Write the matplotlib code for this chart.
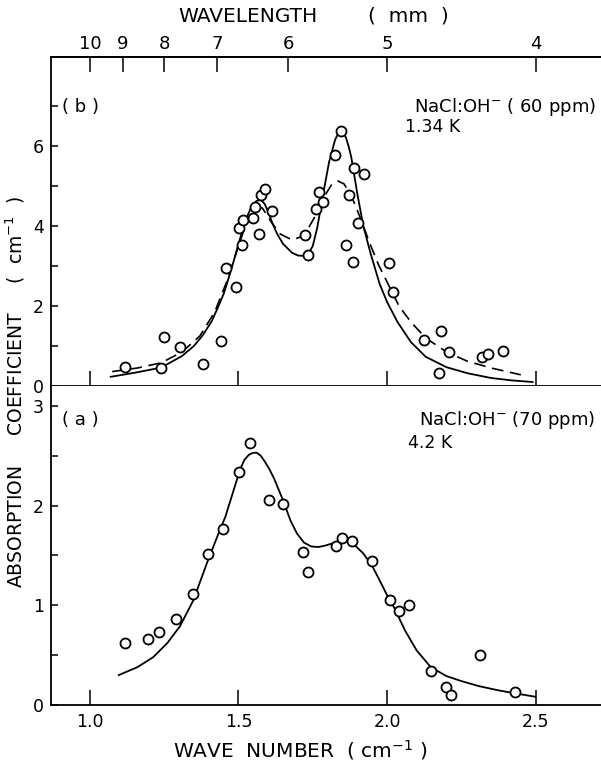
import numpy as np
import matplotlib
matplotlib.use("Agg")
import matplotlib.pyplot as plt

plt.rcParams['font.family'] = ['DejaVu Sans']
plt.rcParams['mathtext.fontset'] = 'dejavusans'

# ---- panel (b): NaCl:OH- 60 ppm, 1.34 K ----
b_wn = [1.118, 1.240, 1.249, 1.303, 1.380, 1.441, 1.459, 1.490, 1.502, 1.511,
        1.514, 1.549, 1.557, 1.570, 1.577, 1.589, 1.612, 1.723, 1.735, 1.760,
        1.770, 1.784, 1.824, 1.844, 1.862, 1.871, 1.884, 1.889, 1.901, 1.922,
        2.006, 2.021, 2.123, 2.174, 2.183, 2.209, 2.318, 2.339, 2.391]
b_abs = [0.47, 0.46, 1.22, 0.98, 0.55, 1.12, 2.94, 2.48, 3.94, 3.52,
         4.15, 4.19, 4.47, 3.79, 4.76, 4.92, 4.38, 3.78, 3.28, 4.42,
         4.84, 4.59, 5.78, 6.36, 3.52, 4.78, 3.09, 5.44, 4.07, 5.30,
         3.07, 2.36, 1.15, 0.33, 1.37, 0.86, 0.73, 0.80, 0.88]

b_solid_x = [1.07, 1.15, 1.24, 1.31, 1.35, 1.38, 1.41, 1.43, 1.45, 1.467,
             1.485, 1.50, 1.515, 1.53, 1.545, 1.56, 1.575, 1.588, 1.60, 1.615,
             1.63, 1.65, 1.68, 1.70, 1.72, 1.735, 1.75, 1.765, 1.785, 1.805,
             1.825, 1.837, 1.845, 1.853, 1.862, 1.872, 1.88, 1.89, 1.90, 1.92,
             1.945, 1.975, 2.0, 2.035, 2.08, 2.13, 2.20, 2.27, 2.35, 2.42, 2.49]
b_solid_y = [0.23, 0.33, 0.46, 0.75, 1.0, 1.27, 1.62, 1.95, 2.3, 2.7,
             3.15, 3.55, 3.93, 4.25, 4.5, 4.62, 4.65, 4.55, 4.35, 4.05,
             3.8, 3.55, 3.33, 3.26, 3.25, 3.3, 3.5, 3.95, 4.8, 5.6,
             6.15, 6.33, 6.38, 6.34, 6.2, 5.95, 5.7, 5.25, 4.8, 4.0,
             3.3, 2.55, 2.1, 1.6, 1.1, 0.73, 0.47, 0.32, 0.2, 0.14, 0.1]

b_dash_x = [1.075, 1.16, 1.24, 1.31, 1.37, 1.42, 1.46, 1.50, 1.53, 1.56,
            1.58, 1.61, 1.64, 1.68, 1.72, 1.755, 1.79, 1.815, 1.835, 1.855,
            1.88, 1.91, 1.94, 1.97, 2.0, 2.04, 2.08, 2.13, 2.2, 2.27,
            2.35, 2.45]
b_dash_y = [0.36, 0.45, 0.58, 0.85, 1.25, 1.85, 2.6, 3.5, 4.15, 4.45,
            4.45, 4.1, 3.8, 3.65, 3.75, 4.2, 4.75, 5.05, 5.12, 5.05,
            4.75, 4.2, 3.6, 3.05, 2.6, 2.0, 1.6, 1.2, 0.85, 0.62,
            0.45, 0.28]

# ---- panel (a): NaCl:OH- 70 ppm, 4.2 K ----
a_wn = [1.118, 1.197, 1.233, 1.289, 1.346, 1.398, 1.449, 1.502, 1.538, 1.603,
        1.650, 1.716, 1.733, 1.829, 1.848, 1.882, 1.950, 2.009, 2.041, 2.075,
        2.147, 2.199, 2.215, 2.314, 2.431]
a_abs = [0.62, 0.66, 0.73, 0.86, 1.11, 1.51, 1.77, 2.34, 2.63, 2.06,
         2.02, 1.53, 1.33, 1.60, 1.68, 1.65, 1.44, 1.05, 0.94, 1.00,
         0.34, 0.18, 0.10, 0.50, 0.13]

a_solid_x = [1.097, 1.16, 1.213, 1.26, 1.303, 1.348, 1.397, 1.43, 1.456, 1.48,
             1.505, 1.52, 1.535, 1.549, 1.562, 1.575, 1.589, 1.605, 1.62, 1.649,
             1.675, 1.697, 1.72, 1.745, 1.77, 1.793, 1.82, 1.841, 1.865, 1.889,
             1.92, 1.949, 1.975, 2.002, 2.025, 2.06, 2.099, 2.147, 2.2, 2.25,
             2.308, 2.37, 2.424, 2.499]
a_solid_y = [0.30, 0.38, 0.48, 0.62, 0.79, 1.05, 1.45, 1.7, 1.89, 2.12,
             2.36, 2.46, 2.51, 2.53, 2.53, 2.5, 2.44, 2.36, 2.27, 2.06,
             1.85, 1.72, 1.63, 1.59, 1.585, 1.60, 1.625, 1.65, 1.65, 1.61,
             1.52, 1.40, 1.25, 1.09, 0.97, 0.75, 0.55, 0.38, 0.29, 0.24,
             0.19, 0.15, 0.12, 0.083]

wl_ticks = [10, 9, 8, 7, 6, 5, 4]

fig = plt.figure(figsize=(6.01, 7.66), dpi=100)
W, H = 601, 766
left = 51 / W
axb = fig.add_axes([left, 1 - 386 / H, 1 - left, (386 - 57) / H])
axa = fig.add_axes([left, 1 - 705 / H, 1 - left, (705 - 386) / H], sharex=axb)

for ax in (axa, axb):
    ax.spines['right'].set_visible(False)
    for s in ax.spines.values():
        s.set_linewidth(1.3)
    ax.tick_params(direction='in', labelsize=12.5, width=1.1)
    ax.tick_params(axis='x', length=11)
    ax.tick_params(axis='y', length=5, pad=5)

axa.spines['top'].set_visible(False)

mk = dict(ls='none', marker='o', ms=7.2, mfc='white', mec='black', mew=1.3, zorder=3)

# panel b
axb.plot(b_solid_x, b_solid_y, color='black', lw=1.3)
axb.plot(b_dash_x, b_dash_y, color='black', lw=1.2, dashes=(7, 4))
axb.plot(b_wn, b_abs, **mk)
axb.set_xlim(0.869, 2.72)
axb.set_ylim(0, 8.22)
axb.set_yticks([0, 1, 2, 3, 4, 5, 6, 7])
axb.set_yticklabels(['0', '', '2', '', '4', '', '6', ''])
axb.set_xticks([1.0, 1.5, 2.0, 2.5])
axb.tick_params(axis='x', labelbottom=False)

# wavelength (mm) = 10 / wave number (cm^-1)
sec = axb.secondary_xaxis('top', functions=(lambda x: 10 / np.maximum(x, 1e-6),
                                             lambda x: 10 / np.maximum(x, 1e-6)))
sec.set_xticks(wl_ticks)
sec.set_xticklabels([str(v) for v in wl_ticks])
sec.tick_params(direction='in', length=11, width=1.1, labelsize=13, pad=3)
sec.spines['top'].set_linewidth(1.3)

fig.text(248 / W, 1 - 16 / H, 'WAVELENGTH', fontsize=14.5,
         ha='center', va='center')
fig.text(408 / W, 1 - 16 / H, '(  mm  )', fontsize=14.5,
         ha='center', va='center')

axb.text(0.02, 0.848, '( b )', transform=axb.transAxes, fontsize=13, va='center')
axb.text(0.99, 0.848, 'NaCl:OH$^{-}$ ( 60 ppm)', transform=axb.transAxes,
         fontsize=13, ha='right', va='center')
axb.text(0.643, 0.787, '1.34 K', transform=axb.transAxes, fontsize=12.5, va='center')

# panel a
axa.plot(a_solid_x, a_solid_y, color='black', lw=1.3)
axa.plot(a_wn, a_abs, **mk)
axa.set_ylim(0, 3.2)
axa.set_yticks([0, 0.5, 1, 1.5, 2, 2.5, 3])
axa.set_yticklabels(['0', '', '1', '', '2', '', '3'])
axa.set_xticks([1.0, 1.5, 2.0, 2.5])
axa.set_xticklabels(['1.0', '1.5', '2.0', '2.5'])
axa.tick_params(axis='x', pad=6)

fig.text(300 / W, 1 - 750 / H, 'WAVE  NUMBER  ( cm$^{-1}$ )',
         fontsize=14.5, ha='center', va='center')

axa.text(0.02, 0.893, '( a )', transform=axa.transAxes, fontsize=13, va='center')
axa.text(0.99, 0.893, 'NaCl:OH$^{-}$ (70 ppm)', transform=axa.transAxes,
         fontsize=13, ha='right', va='center')
axa.text(0.649, 0.821, '4.2 K', transform=axa.transAxes, fontsize=12.5, va='center')

fig.text(15 / W, 1 - 392 / H,
         'ABSORPTION     COEFFICIENT     (  cm$^{-1}$  )',
         rotation=90, va='center', ha='center', fontsize=13.5)

fig.savefig('out.png', dpi=100)
